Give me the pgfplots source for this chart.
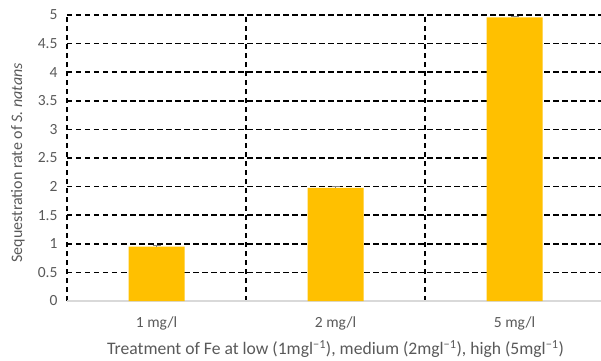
\documentclass[border=0pt]{standalone}
\usepackage{pgfplots}
\pgfplotsset{compat=1.18}
\usepackage{fontspec}
\setmainfont{Carlito}
\definecolor{bar}{HTML}{FFC000}
\definecolor{txt}{HTML}{595959}
\definecolor{base}{HTML}{D9D9D9}
\begin{document}
\begin{tikzpicture}
\path[use as bounding box] (-67pt,-59pt) rectangle (534pt,301pt);
\begin{axis}[
  at={(0pt,0pt)}, anchor=south west,
  scale only axis, width=534pt, height=286pt,
  xmin=-0.5, xmax=2.483, ymin=0, ymax=5,
  axis line style={draw=none},
  clip=false,
  xtick={0,1,2}, xticklabels={1 mg/l, 2 mg/l, 5 mg/l},
  ytick={0,0.5,...,5},
  yticklabels={0,0.5,1,1.5,2,2.5,3,3.5,4,4.5,5},
  major tick length=0pt,
  tick style={draw=none},
  tick label style={font=\fontsize{15.5}{18}\selectfont, text=txt},
  xticklabel style={anchor=center, yshift=-22pt},
  yticklabel style={anchor=east, xshift=-6pt},
  /pgf/number format/assume math mode=true,
  ylabel={Sequestration rate of \textit{S. natans}},
  ylabel style={at={(axis description cs:-0.0918,0.483)}, anchor=center, font=\fontsize{16}{19}\selectfont, text=txt},
  xlabel={Treatment of Fe at low (1mgl\textsuperscript{\textminus 1}), medium (2mgl\textsuperscript{\textminus 1}), high (5mgl\textsuperscript{\textminus 1})},
  xlabel style={at={(axis description cs:0.503,-0.168)}, anchor=center, font=\fontsize{17.6}{20}\selectfont, text=txt},
]
% grid
\pgfplotsinvokeforeach{0.5,1,1.5,2,2.5,3,3.5,4,4.5,5}{
  \draw[black, line width=1.5pt, dash pattern=on 5.5pt off 3.5pt] (axis cs:-0.5,#1) -- (axis cs:2.483,#1);
}
\pgfplotsinvokeforeach{-0.5,0.5,1.5}{
  \draw[black, line width=1.5pt, dash pattern=on 5.5pt off 3.5pt] (axis cs:#1,0) -- (axis cs:#1,5);
}
\draw[base, line width=1.2pt] (axis cs:-0.5,0) -- (axis cs:2.483,0);
\addplot[ybar, bar width=56pt, fill=bar, draw=none,
  error bars/.cd, y dir=plus, y explicit, error bar style={gray, line width=0.6pt}, error mark options={gray, mark size=4pt, line width=0.6pt, rotate=90}]
  coordinates {(0,0.95) +- (0,0.02) (1,1.98) +- (0,0.02) (2,4.96) +- (0,0.02)};
\end{axis}
\end{tikzpicture}
\end{document}
